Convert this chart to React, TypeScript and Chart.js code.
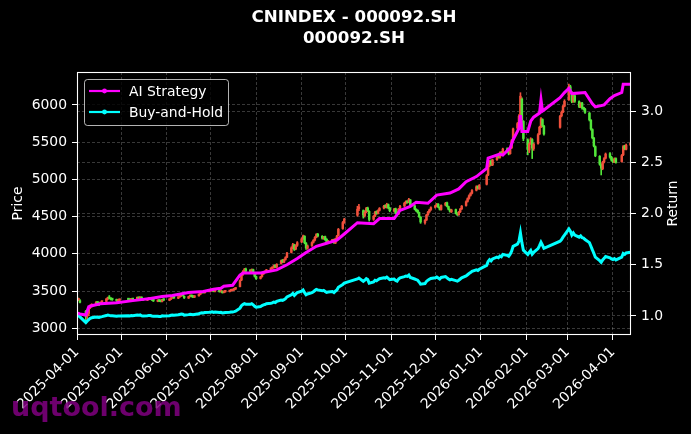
import React, { useEffect, useRef } from 'react';
import Chart from 'chart.js/auto';

// trading calendar (SSE), weekends are skipped as well
const startDate = '2025-04-01';
const endDate = '2026-04-13';
const holidays = [
	'2025-04-04', '2025-05-01', '2025-05-02', '2025-05-05', '2025-06-02',
	'2025-10-01', '2025-10-02', '2025-10-03', '2025-10-06', '2025-10-07', '2025-10-08',
	'2026-01-01', '2026-01-02',
	'2026-02-16', '2026-02-17', '2026-02-18', '2026-02-19', '2026-02-20', '2026-02-23',
	'2026-04-06'
];

// 000092.SH daily candles, one row per month
const opens = [
	3420, 3382, 3370, 3230, 3165, 3200, 3280, 3295, 3330, 3345, 3335, 3328, 3350, 3362, 3396, 3420, 3398, 3392, 3385, 3368, 3378,
	3392, 3386, 3380, 3394, 3398, 3412, 3400, 3418, 3390, 3378, 3392, 3404, 3398, 3382, 3362, 3376, 3368, 3360, 3390,
	3376, 3392, 3408, 3415, 3404, 3422, 3434, 3448, 3430, 3406, 3428, 3438, 3426, 3418, 3436, 3456, 3478, 3490, 3478, 3494,
	3502, 3508, 3512, 3496, 3508, 3494, 3498, 3482, 3490, 3494, 3504, 3508, 3516, 3528, 3560, 3650, 3725, 3768, 3795, 3772, 3760, 3788, 3745,
	3695, 3670, 3695, 3730, 3752, 3762, 3790, 3805, 3815, 3845, 3822, 3870, 3912, 3890, 3925, 3955, 4020, 4085, 4120, 4065, 4115,
	4160, 4205, 4235, 4145, 4075, 4112, 4155, 4185, 4225, 4262, 4235, 4205, 4230, 4195, 4150, 4175, 4190, 4145, 4205, 4245, 4340, 4425,
	4520, 4605, 4580, 4515, 4565, 4615, 4570, 4465, 4505, 4565, 4545, 4585, 4615, 4645, 4625, 4660, 4615,
	4575, 4605, 4545, 4535, 4605, 4645, 4685, 4705, 4695, 4725, 4645, 4595, 4585, 4555, 4495, 4420, 4455, 4525, 4565, 4595,
	4625, 4645, 4668, 4625, 4595, 4655, 4685, 4635, 4595, 4565, 4595, 4540, 4525, 4565, 4605, 4650, 4705, 4745, 4785, 4815, 4855, 4905, 4875,
	4935, 5060, 5185, 5245, 5195, 5265, 5325, 5295, 5362, 5325, 5412, 5375, 5345, 5425, 5530, 5690, 5760, 5860, 6080, 5780,
	5530, 5395, 5485, 5535, 5415, 5485, 5610, 5705, 5805, 5715, 5700, 5855, 5905, 5985,
	6070, 6245, 6170, 6045, 6125, 6045, 5975, 6025, 5955, 5945, 5890, 5795, 5670, 5555, 5440, 5310, 5195, 5145, 5235, 5285, 5345, 5295,
	5255, 5235, 5280, 5240, 5330, 5445, 5405, 5465
];
const highs = [
	3430, 3405, 3385, 3240, 3230, 3270, 3315, 3330, 3360, 3355, 3345, 3355, 3368, 3400, 3420, 3440, 3405, 3400, 3392, 3385, 3390,
	3400, 3392, 3398, 3402, 3418, 3420, 3422, 3424, 3396, 3396, 3408, 3410, 3402, 3388, 3380, 3382, 3374, 3390, 3396,
	3396, 3410, 3420, 3422, 3426, 3440, 3452, 3456, 3436, 3430, 3444, 3446, 3432, 3438, 3462, 3482, 3494, 3498, 3500, 3508,
	3512, 3522, 3518, 3516, 3512, 3506, 3502, 3494, 3502, 3508, 3518, 3522, 3532, 3548, 3652, 3735, 3775, 3805, 3810, 3785, 3798, 3795, 3752,
	3702, 3698, 3732, 3756, 3770, 3792, 3812, 3822, 3850, 3855, 3868, 3918, 3925, 3930, 3962, 4022, 4095, 4140, 4130, 4122, 4165,
	4215, 4252, 4245, 4152, 4120, 4162, 4192, 4232, 4272, 4275, 4245, 4235, 4240, 4205, 4182, 4196, 4198, 4210, 4250, 4342, 4435, 4478,
	4640, 4665, 4590, 4580, 4625, 4628, 4580, 4515, 4572, 4578, 4592, 4622, 4652, 4660, 4680, 4670, 4625,
	4612, 4615, 4560, 4610, 4652, 4692, 4712, 4715, 4745, 4730, 4652, 4605, 4592, 4562, 4500, 4462, 4530, 4570, 4600, 4632,
	4652, 4678, 4675, 4632, 4660, 4692, 4695, 4642, 4602, 4600, 4602, 4552, 4570, 4612, 4650, 4712, 4752, 4792, 4822, 4862, 4915, 4915, 4932,
	5065, 5195, 5255, 5262, 5272, 5335, 5340, 5370, 5375, 5420, 5425, 5385, 5432, 5535, 5690, 5765, 5870, 6165, 6095, 5790,
	5545, 5495, 5560, 5548, 5490, 5615, 5715, 5830, 5815, 5725, 5862, 5920, 5995, 6070,
	6282, 6265, 6180, 6135, 6135, 6055, 6032, 6035, 5970, 5955, 5900, 5805, 5680, 5565, 5450, 5320, 5210, 5245, 5295, 5355, 5360, 5310,
	5275, 5290, 5290, 5335, 5455, 5460, 5475, 5495
];
const lows = [
	3375, 3370, 3340, 3070, 3120, 3170, 3265, 3285, 3320, 3325, 3305, 3320, 3342, 3355, 3385, 3395, 3380, 3375, 3360, 3362, 3370,
	3376, 3370, 3374, 3380, 3392, 3396, 3394, 3382, 3374, 3372, 3386, 3390, 3374, 3360, 3356, 3358, 3354, 3356, 3372,
	3370, 3386, 3402, 3400, 3398, 3416, 3428, 3434, 3400, 3400, 3420, 3420, 3412, 3412, 3430, 3450, 3470, 3472, 3472, 3488,
	3494, 3500, 3490, 3490, 3485, 3486, 3472, 3474, 3484, 3488, 3498, 3502, 3508, 3520, 3555, 3640, 3712, 3755, 3760, 3750, 3748, 3740, 3688,
	3655, 3662, 3688, 3722, 3744, 3755, 3782, 3796, 3808, 3815, 3815, 3862, 3882, 3880, 3915, 3948, 4012, 4070, 4045, 4055, 4100,
	4150, 4195, 4135, 4060, 4062, 4100, 4145, 4175, 4215, 4228, 4198, 4195, 4180, 4145, 4140, 4165, 4140, 4138, 4195, 4238, 4330, 4410,
	4505, 4580, 4480, 4495, 4550, 4565, 4440, 4450, 4498, 4530, 4535, 4575, 4605, 4618, 4615, 4605, 4565,
	4565, 4540, 4515, 4528, 4595, 4635, 4672, 4680, 4688, 4640, 4590, 4568, 4548, 4490, 4410, 4400, 4448, 4515, 4555, 4585,
	4615, 4635, 4620, 4588, 4588, 4645, 4630, 4590, 4560, 4555, 4535, 4515, 4518, 4555, 4595, 4642, 4695, 4735, 4775, 4805, 4845, 4868, 4865,
	4925, 5050, 5170, 5185, 5185, 5255, 5285, 5285, 5318, 5318, 5365, 5330, 5338, 5415, 5520, 5675, 5745, 5850, 5780, 5520,
	5330, 5360, 5470, 5280, 5390, 5475, 5600, 5695, 5705, 5595, 5690, 5840, 5895, 5975,
	6060, 6165, 6030, 6035, 6035, 5965, 5965, 5945, 5930, 5885, 5785, 5660, 5545, 5435, 5305, 5190, 5060, 5130, 5220, 5275, 5285, 5245,
	5225, 5225, 5218, 5232, 5320, 5398, 5395, 5455
];
const closes = [
	3380, 3395, 3350, 3160, 3215, 3260, 3300, 3320, 3346, 3340, 3330, 3350, 3360, 3395, 3414, 3400, 3390, 3385, 3370, 3378, 3380,
	3385, 3378, 3392, 3386, 3410, 3402, 3415, 3388, 3382, 3390, 3400, 3396, 3380, 3368, 3374, 3365, 3362, 3385, 3378,
	3390, 3405, 3412, 3408, 3420, 3432, 3445, 3440, 3410, 3425, 3436, 3428, 3420, 3432, 3455, 3475, 3486, 3480, 3492, 3500,
	3505, 3515, 3498, 3510, 3492, 3500, 3480, 3488, 3495, 3502, 3510, 3515, 3525, 3540, 3640, 3720, 3760, 3790, 3770, 3765, 3785, 3750, 3700,
	3667, 3690, 3725, 3748, 3760, 3785, 3800, 3812, 3840, 3825, 3860, 3907, 3895, 3920, 3950, 4010, 4080, 4124, 4060, 4110, 4150,
	4200, 4239, 4150, 4080, 4107, 4150, 4180, 4220, 4259, 4240, 4210, 4225, 4190, 4157, 4170, 4185, 4150, 4200, 4239, 4330, 4420, 4462,
	4600, 4630, 4520, 4560, 4610, 4580, 4462, 4500, 4560, 4540, 4580, 4610, 4640, 4630, 4664, 4620, 4580,
	4600, 4550, 4529, 4600, 4640, 4680, 4700, 4690, 4732, 4650, 4600, 4580, 4560, 4500, 4428, 4450, 4520, 4560, 4590, 4620,
	4640, 4664, 4630, 4600, 4650, 4680, 4640, 4600, 4570, 4590, 4545, 4529, 4560, 4600, 4640, 4700, 4740, 4780, 4810, 4850, 4901, 4880, 4920,
	5050, 5180, 5239, 5200, 5260, 5320, 5300, 5357, 5330, 5408, 5380, 5350, 5420, 5520, 5678, 5750, 5850, 6118, 5800, 5550,
	5408, 5480, 5543, 5420, 5476, 5600, 5700, 5814, 5720, 5611, 5847, 5900, 5980, 6050,
	6253, 6180, 6050, 6120, 6050, 5980, 6020, 5960, 5949, 5900, 5800, 5678, 5560, 5450, 5320, 5205, 5150, 5230, 5280, 5340, 5300, 5260,
	5240, 5273, 5230, 5320, 5440, 5410, 5460, 5480
];

// AI strategy equity curve (read at its turning points)
const aiDates = [
	'2025-04-01', '2025-04-03', '2025-04-07', '2025-04-09', '2025-04-11', '2025-04-17', '2025-04-28', '2025-05-09',
	'2025-05-21', '2025-05-29', '2025-06-05', '2025-06-16', '2025-06-26', '2025-07-03', '2025-07-08', '2025-07-10',
	'2025-07-16', '2025-07-21', '2025-07-23', '2025-08-04', '2025-08-15', '2025-08-22', '2025-08-29', '2025-09-04',
	'2025-09-11', '2025-09-18', '2025-09-25', '2025-09-30', '2025-10-09', '2025-10-20', '2025-10-24', '2025-11-03',
	'2025-11-07', '2025-11-14', '2025-11-18', '2025-11-26', '2025-12-02', '2025-12-11', '2025-12-17', '2025-12-22',
	'2025-12-29', '2026-01-05', '2026-01-06', '2026-01-14', '2026-01-16', '2026-01-21', '2026-01-23', '2026-01-27',
	'2026-01-28', '2026-01-29', '2026-02-02', '2026-02-04', '2026-02-06', '2026-02-10', '2026-02-11', '2026-02-12',
	'2026-02-13', '2026-02-24', '2026-02-27', '2026-03-02', '2026-03-04', '2026-03-13', '2026-03-18', '2026-03-20',
	'2026-03-26', '2026-03-30', '2026-04-02', '2026-04-07', '2026-04-08', '2026-04-13'
];
const aiReturn = [
	1.03, 1.02, 1.01, 1.09, 1.10, 1.12, 1.13, 1.15,
	1.17, 1.19, 1.20, 1.23, 1.24, 1.26, 1.27, 1.29,
	1.30, 1.40, 1.42, 1.42, 1.45, 1.50, 1.56, 1.62,
	1.68, 1.71, 1.74, 1.80, 1.91, 1.90, 1.95, 1.95,
	2.03, 2.07, 2.11, 2.10, 2.18, 2.20, 2.24, 2.31,
	2.36, 2.44, 2.54, 2.58, 2.57, 2.64, 2.72, 2.83,
	2.96, 2.80, 2.80, 2.90, 2.94, 2.98, 3.11, 3.00,
	3.01, 3.13, 3.18, 3.22, 3.17, 3.18, 3.07, 3.04,
	3.06, 3.12, 3.15, 3.18, 3.26, 3.26
];

const xTickLabels = [
	'2025-04-01', '2025-05-01', '2025-06-01', '2025-07-01', '2025-08-01', '2025-09-01', '2025-10-01',
	'2025-11-01', '2025-12-01', '2026-01-01', '2026-02-01', '2026-03-01', '2026-04-01'
];
const priceTicks = [3000, 3500, 4000, 4500, 5000, 5500, 6000];
const returnTicks = [1.0, 1.5, 2.0, 2.5, 3.0];

const UP = '#f0503c';
const DOWN = '#52e63a';
const GRID = 'rgba(255,255,255,0.28)';
const FONT = 'DejaVu Sans';

const DAY = 86400000;
const t0 = Date.parse(startDate + 'T00:00:00Z');
const dayOf = (s: string) => (Date.parse(s + 'T00:00:00Z') - t0) / DAY;

function tradingDays(): string[] {
	const out: string[] = [];
	const end = Date.parse(endDate + 'T00:00:00Z');
	for (let t = t0; t <= end; t += DAY) {
		const d = new Date(t);
		const s = d.toISOString().slice(0, 10);
		const wd = d.getUTCDay();
		if (wd === 0 || wd === 6 || holidays.includes(s)) continue;
		out.push(s);
	}
	return out;
}

const gridOpts = { color: GRID, lineWidth: 0.8, tickColor: '#fff', tickLength: 5, tickWidth: 1, offset: false };

// titles, frame, legend, right axis label and watermark drawn over the chart
const overlay = {
	id: 'overlay',
	afterDraw(chart: any) {
		const { ctx, chartArea: a } = chart;
		ctx.save();
		ctx.strokeStyle = '#fff';
		ctx.lineWidth = 1.1;
		ctx.strokeRect(a.left + 0.5, a.top + 0.5, a.right - a.left - 1, a.bottom - a.top - 1);

		const cx = (a.left + a.right) / 2;
		ctx.fillStyle = '#fff';
		ctx.textAlign = 'center';
		ctx.textBaseline = 'middle';
		ctx.font = `bold 16.7px "${FONT}"`;
		ctx.fillText('CNINDEX - 000092.SH', cx, 18);
		ctx.fillText('000092.SH', cx, 39);

		// right axis label, read bottom to top
		ctx.save();
		ctx.translate(673, (a.top + a.bottom) / 2);
		ctx.rotate(-Math.PI / 2);
		ctx.font = `13.9px "${FONT}"`;
		ctx.fillText('Return', 0, 0);
		ctx.restore();

		// legend
		ctx.beginPath();
		ctx.roundRect(84.5, 79.5, 144, 46, 3);
		ctx.fillStyle = 'rgba(0,0,0,0.8)';
		ctx.fill();
		ctx.strokeStyle = 'rgba(255,255,255,0.7)';
		ctx.lineWidth = 1;
		ctx.stroke();
		const items = [
			{ label: 'AI Strategy', color: '#ff00ff', y: 91 },
			{ label: 'Buy-and-Hold', color: '#00ffff', y: 112 }
		];
		ctx.textAlign = 'left';
		ctx.font = `13.9px "${FONT}"`;
		for (const it of items) {
			ctx.strokeStyle = it.color;
			ctx.lineWidth = 2.2;
			ctx.beginPath();
			ctx.moveTo(89, it.y);
			ctx.lineTo(120, it.y);
			ctx.stroke();
			ctx.fillStyle = it.color;
			ctx.beginPath();
			ctx.arc(104.5, it.y, 2.4, 0, Math.PI * 2);
			ctx.fill();
			ctx.fillStyle = '#fff';
			ctx.fillText(it.label, 129, it.y + 1);
		}

		// watermark
		ctx.font = `bold 27px "${FONT}"`;
		ctx.textBaseline = 'alphabetic';
		ctx.fillStyle = 'rgba(128,0,128,0.85)';
		ctx.fillText('uqtool.com', 11, 416);
		ctx.restore();
	}
};

export default function App() {
	const chartRef = useRef<HTMLCanvasElement>(null);
	const chartInstance = useRef<Chart | null>(null);

	useEffect(() => {
		if (chartInstance.current) {
			chartInstance.current.destroy();
		}
		if (!chartRef.current) return;

		const dates = tradingDays();
		const n = Math.min(dates.length, closes.length);
		const xs = dates.slice(0, n).map(dayOf);
		const colors = xs.map((_, i) => (closes[i] >= opens[i] ? UP : DOWN));
		const base = closes[0];

		Chart.defaults.font.family = FONT;
		Chart.defaults.color = '#fff';

		chartInstance.current = new Chart(chartRef.current, {
			type: 'bar',
			data: {
				datasets: [
					{
						type: 'line',
						label: 'AI Strategy',
						data: aiDates.map((d, i) => ({ x: dayOf(d), y: aiReturn[i] })),
						borderColor: '#ff00ff',
						borderWidth: 3,
						pointRadius: 0,
						yAxisID: 'y1',
						order: 0
					},
					{
						type: 'line',
						label: 'Buy-and-Hold',
						data: xs.map((x, i) => ({ x, y: closes[i] / base })),
						borderColor: '#00ffff',
						borderWidth: 3,
						pointRadius: 0,
						yAxisID: 'y1',
						order: 1
					},
					{
						label: 'body',
						data: xs.map((x, i) => ({ x, y: [opens[i], closes[i]] })),
						backgroundColor: colors,
						barThickness: 1.8,
						minBarLength: 1.5,
						grouped: false,
						yAxisID: 'y',
						order: 2
					},
					{
						label: 'wick',
						data: xs.map((x, i) => ({ x, y: [lows[i], highs[i]] })),
						backgroundColor: colors,
						barThickness: 1,
						grouped: false,
						yAxisID: 'y',
						order: 3
					}
				] as any
			},
			options: {
				responsive: true,
				maintainAspectRatio: false,
				animation: false,
				layout: { padding: { top: 72, left: 0, right: 0, bottom: 0 } },
				plugins: {
					legend: { display: false },
					tooltip: { enabled: false },
					title: { display: false }
				},
				scales: {
					x: {
						type: 'linear',
						min: 0,
						max: 377.3,
						offset: false,
						afterBuildTicks: (s: any) => {
							s.ticks = xTickLabels.map((l) => ({ value: dayOf(l) }));
						},
						afterFit: (s: any) => {
							s.height = 99;
						},
						ticks: {
							color: '#fff',
							font: { size: 13.9 },
							minRotation: 45,
							maxRotation: 45,
							autoSkip: false,
							padding: 4,
							callback: (_v: any, i: number) => xTickLabels[i]
						},
						grid: gridOpts,
						border: { display: false, dash: [3, 2] }
					},
					y: {
						type: 'linear',
						position: 'left',
						min: 2910,
						max: 6443,
						afterBuildTicks: (s: any) => {
							s.ticks = priceTicks.map((value) => ({ value }));
						},
						afterFit: (s: any) => {
							s.width = 77;
						},
						ticks: { color: '#fff', font: { size: 13.9 }, padding: 5, callback: (v: any) => String(v) },
						title: {
							display: true,
							text: 'Price',
							color: '#fff',
							font: { size: 13.9 },
							padding: { top: 10.5, bottom: 0 }
						},
						grid: gridOpts,
						border: { display: false, dash: [3, 2] }
					},
					y1: {
						type: 'linear',
						position: 'right',
						min: 0.8146,
						max: 3.3805,
						afterBuildTicks: (s: any) => {
							s.ticks = returnTicks.map((value) => ({ value }));
						},
						afterFit: (s: any) => {
							s.width = 60;
						},
						ticks: {
							color: '#fff',
							font: { size: 13.9 },
							padding: 5,
							callback: (v: any) => Number(v).toFixed(1)
						},
						grid: gridOpts,
						border: { display: false, dash: [3, 2] }
					}
				}
			},
			plugins: [overlay]
		});

		return () => {
			if (chartInstance.current) {
				chartInstance.current.destroy();
				chartInstance.current = null;
			}
		};
	}, []);

	return (
		<div style={{ position: 'fixed', left: 0, top: 0, width: '691px', height: '434px', background: '#000' }}>
			<canvas ref={chartRef}></canvas>
		</div>
	);
}
